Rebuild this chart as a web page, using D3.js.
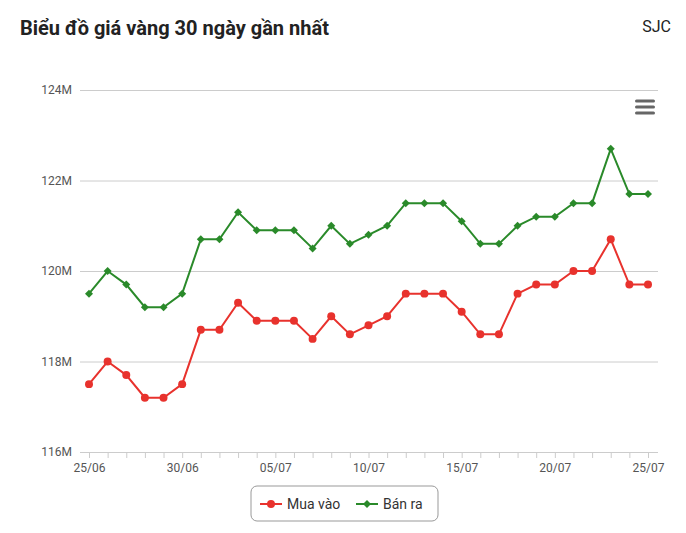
<!DOCTYPE html>
<html><head><meta charset="utf-8">
<script src="https://cdn.jsdelivr.net/npm/d3@7"></script>
<style>body{margin:0;background:#fff;font-family:Roboto,"Noto Sans",sans-serif}</style>
</head><body>
<svg id="c" width="686" height="533"></svg>
<script>
const dates = ["25/06","26/06","27/06","28/06","29/06","30/06","01/07","02/07","03/07","04/07","05/07","06/07","07/07","08/07","09/07","10/07","11/07","12/07","13/07","14/07","15/07","16/07","17/07","18/07","19/07","20/07","21/07","22/07","23/07","24/07","25/07"];
const muaVao = [117.5,118.0,117.7,117.2,117.2,117.5,118.7,118.7,119.3,118.9,118.9,118.9,118.5,119.0,118.6,118.8,119.0,119.5,119.5,119.5,119.1,118.6,118.6,119.5,119.7,119.7,120.0,120.0,120.7,119.7,119.7];
const banRa = [119.5,120.0,119.7,119.2,119.2,119.5,120.7,120.7,121.3,120.9,120.9,120.9,120.5,121.0,120.6,120.8,121.0,121.5,121.5,121.5,121.1,120.6,120.6,121.0,121.2,121.2,121.5,121.5,122.7,121.7,121.7];
const yTicks = [116,118,120,122,124];
const xTickLabels = ["25/06","30/06","05/07","10/07","15/07","20/07","25/07"];

const svg = d3.select("#c");
const x = d3.scalePoint().domain(dates).range([89,648]);
const y = d3.scaleLinear().domain([116,124]).range([452,90]);

svg.append("text").attr("x",20).attr("y",35).attr("font-size",20).attr("font-weight","bold").attr("fill","#222").text("Biểu đồ giá vàng 30 ngày gần nhất");
svg.append("text").attr("x",671).attr("y",32).attr("text-anchor","end").attr("font-size",16).attr("fill","#222").text("SJC");

const ya = svg.append("g").attr("transform","translate(80,0)")
  .call(d3.axisLeft(y).tickValues(yTicks).tickSize(-578).tickFormat(d=>d+"M"));
ya.select(".domain").remove();
ya.selectAll("line").attr("stroke","#ccc");
ya.selectAll("text").attr("x",-8).attr("dy","0.32em").attr("font-size",12).attr("fill","#555").attr("font-family","Roboto,sans-serif");

const xa = svg.append("g").attr("transform","translate(0,452)")
  .call(d3.axisBottom(x).tickValues(dates).tickSize(6).tickFormat(d=>xTickLabels.includes(d)?d:""));
xa.select(".domain").attr("d","M80,0.5H658").attr("stroke","#ccc");
xa.selectAll("line").attr("stroke","#ccc");
xa.selectAll("text").attr("font-size",12).attr("fill","#555").attr("font-family","Roboto,sans-serif").attr("dy","0.9em");

[101,107,113].forEach(yy=>svg.append("rect").attr("x",635).attr("y",yy-1.5).attr("width",20).attr("height",3).attr("rx",1.5).attr("fill","#666"));

function mark(sel,color,kind){
  if(kind==="circle") sel.attr("d",d3.symbol(d3.symbolCircle,50)).attr("fill",color);
  else sel.attr("d",d3.symbol(d3.symbolSquare,32)).attr("fill",color);
}
function series(vals,color,kind){
  svg.append("path").datum(vals).attr("fill","none").attr("stroke",color).attr("stroke-width",2)
    .attr("d",d3.line().x((d,i)=>x(dates[i])).y(d=>y(d)));
  const m = svg.append("g").selectAll("path").data(vals).join("path")
    .attr("transform",(d,i)=>`translate(${x(dates[i])},${y(d)})`+(kind==="circle"?"":" rotate(45)"));
  mark(m,color,kind);
}
series(muaVao,"#e8322d","circle");
series(banRa,"#2a8a2a","diamond");

const lg = svg.append("g");
lg.append("rect").attr("x",251).attr("y",486).attr("width",187).attr("height",35).attr("rx",6).attr("fill","#fff").attr("stroke","#999");
lg.append("line").attr("x1",260).attr("x2",282).attr("y1",504).attr("y2",504).attr("stroke","#e8322d").attr("stroke-width",2);
mark(lg.append("path").attr("transform","translate(271,504)"),"#e8322d","circle");
lg.append("text").attr("x",287).attr("y",509).attr("font-size",14).attr("fill","#333").text("Mua vào");
lg.append("line").attr("x1",356).attr("x2",378).attr("y1",504).attr("y2",504).attr("stroke","#2a8a2a").attr("stroke-width",2);
mark(lg.append("path").attr("transform","translate(367,504) rotate(45)"),"#2a8a2a","diamond");
lg.append("text").attr("x",383).attr("y",509).attr("font-size",14).attr("fill","#333").text("Bán ra");
</script>
</body></html>
